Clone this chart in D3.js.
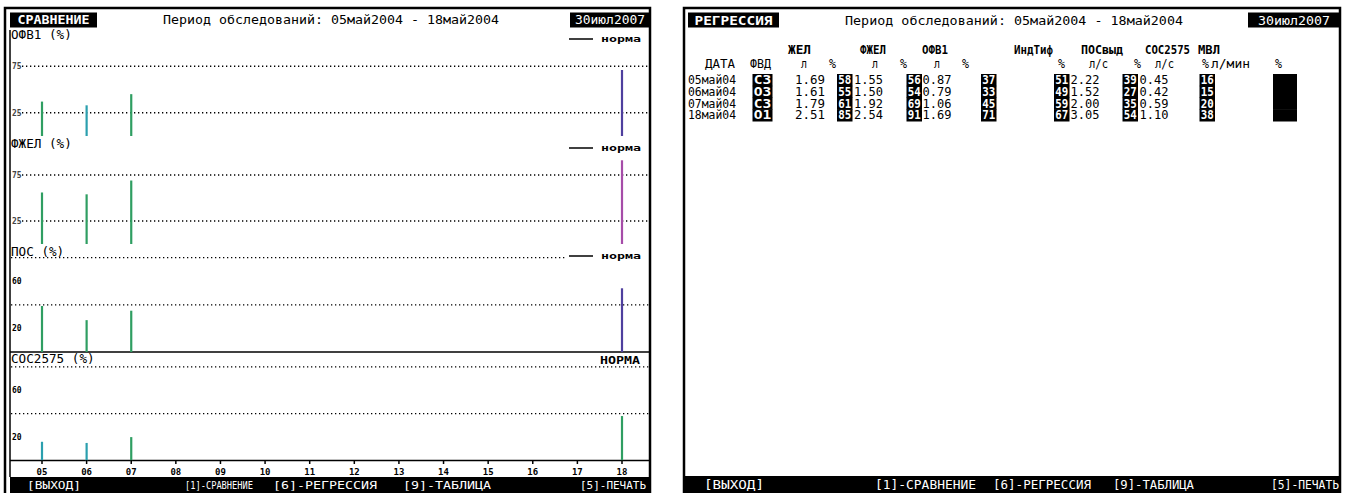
<!DOCTYPE html>
<html><head><meta charset="utf-8">
<script src="https://cdn.jsdelivr.net/npm/d3@7"></script>
<style>
html,body{margin:0;padding:0;background:#fff;}
svg text{font-family:"DejaVu Sans Mono",monospace;}
</style></head>
<body><svg id="c" width="1345" height="493"></svg>
<script>
// ---------- DATA ----------
const dates = ["05май04","06май04","07май04","18май04"];
const days = [5, 6, 7, 18];
const xTicks = [5,6,7,8,9,10,11,12,13,14,15,16,17,18];
const fvd = ["С3","О3","С3","О1"];
const zhelL = ["1.69","1.61","1.79","2.51"];
const zhelP = [58, 55, 61, 85];
const fzhelL = ["1.55","1.50","1.92","2.54"];
const fzhelP = [56, 54, 69, 91];
const ofv1L = ["0.87","0.79","1.06","1.69"];
const ofv1P = [37, 33, 45, 71];
const tiffP = [51, 49, 59, 67];
const posL = ["2.22","1.52","2.00","3.05"];
const posP = [39, 27, 35, 54];
const sosL = ["0.45","0.42","0.59","1.10"];
const sosP = [16, 15, 20, 38];
const mvlP = ["","","",""];
// grade class of each bar (colour category)
const ofv1Grade = ["b","c","b","p"];
const fzhelGrade = ["b","b","b","m"];
const posGrade = ["b","b","b","p"];
const sosGrade = ["c","c","b","b"];
const gridA = [25, 75], labelA = ["25","75"];
const gridB = [40, 80], labelB = [20, 60];
const period = "Период обследований: 05май2004 - 18май2004";
const today = "30июл2007";
const menu = ["[ВЫХОД]","[1]-СРАВНЕНИЕ","[6]-РЕГРЕССИЯ","[9]-ТАБЛИЦА","[5]-ПЕЧАТЬ"];
const head1 = ["ЖЕЛ","ФЖЕЛ","ОФВ1","ИндТиф","ПОСвыд","СОС2575","МВЛ"];
const head2 = ["ДАТА","ФВД","л","%","л","%","л","%","%","л/с","%","л/с","%","л/мин","%"];

// ---------- DRAW ----------
const svg = d3.select("#c");
const color = d3.scaleOrdinal().domain(["b","c","p","m"]).range(["#2f9e62","#2b9fae","#4f3f9e","#a64ca8"]);
const x = d3.scaleLinear().domain([5,18]).range([42,622]);

// ===== LEFT PANEL =====
const L = svg.append("g");
L.append("rect").attr("x",5).attr("y",8).attr("width",645).attr("height",495)
  .attr("fill","none").attr("stroke","#000").attr("stroke-width",2.5);
L.append("line").attr("x1",10).attr("x2",10).attr("y1",30).attr("y2",477).attr("stroke","#000").attr("stroke-width",1.5);
L.append("rect").attr("x",10).attr("y",12.5).attr("width",87).attr("height",15).attr("fill","#000");
L.append("text").attr("x",53.5).attr("y",24).attr("text-anchor","middle").attr("fill","#fff")
  .attr("font-size",12).attr("font-weight","bold").attr("textLength",72).attr("lengthAdjust","spacingAndGlyphs").text("СРАВНЕНИЕ");
L.append("text").attr("x",331).attr("y",24).attr("text-anchor","middle").attr("font-size",12)
  .attr("textLength",336).attr("lengthAdjust","spacingAndGlyphs").text(period);
L.append("rect").attr("x",570).attr("y",12.5).attr("width",80).attr("height",15).attr("fill","#000");
L.append("text").attr("x",610).attr("y",24).attr("text-anchor","middle").attr("fill","#fff").attr("font-size",12)
  .attr("textLength",70).attr("lengthAdjust","spacingAndGlyphs").text(today);

const panels = [
  {title:"ОФВ1 (%)", vals:ofv1P, grade:ofv1Grade, y:d3.scaleLinear().domain([0,100]).range([136,43]), tY:39,
   grid:gridA, labels:labelA, labelAt:gridA, axis:false, legend:"line"},
  {title:"ФЖЕЛ (%)", vals:fzhelP, grade:fzhelGrade, y:d3.scaleLinear().domain([0,100]).range([244,152]), tY:148,
   grid:gridA, labels:labelA, labelAt:gridA, axis:false, legend:"line"},
  {title:"ПОС (%)", vals:posP, grade:posGrade, y:d3.scaleLinear().domain([0,100]).range([352,234]), tY:256,
   grid:gridB, labels:labelB.map(String), labelAt:labelB, axis:true, legend:"line"},
  {title:"СОС2575 (%)", vals:sosP, grade:sosGrade, y:d3.scaleLinear().domain([0,100]).range([460.5,343.5]), tY:363,
   grid:gridB, labels:labelB.map(String), labelAt:labelB, axis:true, legend:"text"}
];
panels.forEach((p,pi)=>{
  const g = L.append("g");
  p.grid.forEach((v,i)=>{
    const yy = p.y(v);
    const top = (i===p.grid.length-1) && pi===2;
    g.append("line").attr("x1", p.axis?11:22).attr("x2", top?566:650).attr("y1",yy).attr("y2",yy)
      .attr("stroke","#000").attr("stroke-width",1.3).attr("stroke-dasharray","1.3,2.7");
  });
  p.labels.forEach((t,i)=>{
    g.append("text").attr("x",12).attr("y",p.y(p.labelAt[i])+3).attr("font-size",8).attr("font-weight","bold")
      .attr("fill", p.axis?"#000":"#444").text(t);
  });
  g.append("text").attr("x",11).attr("y",p.tY).attr("font-size",11.5)
    .attr("textLength",p.title.length*7.6).attr("lengthAdjust","spacingAndGlyphs").text(p.title);
  if(p.legend==="line"){
    g.append("line").attr("x1",569).attr("x2",593).attr("y1",p.tY).attr("y2",p.tY).attr("stroke","#000").attr("stroke-width",1.5);
    g.append("text").attr("x",601).attr("y",p.tY+3).attr("font-size",9).attr("font-weight","bold")
      .attr("textLength",40).attr("lengthAdjust","spacingAndGlyphs").text("норма");
  } else {
    g.append("rect").attr("x",598).attr("y",p.tY-9).attr("width",44).attr("height",12).attr("fill","#fff");
    g.append("text").attr("x",600).attr("y",p.tY+1).attr("font-size",10).attr("font-weight","bold")
      .attr("textLength",40).attr("lengthAdjust","spacingAndGlyphs").text("НОРМА");
  }
  if(p.axis){
    g.append("line").attr("x1",10).attr("x2",650).attr("y1",p.y(0)).attr("y2",p.y(0)).attr("stroke","#000").attr("stroke-width",1.6);
  }
  g.selectAll("line.bar").data(p.vals).join("line").attr("class","bar")
    .attr("x1",(d,i)=>x(days[i])).attr("x2",(d,i)=>x(days[i]))
    .attr("y1",p.y(0)).attr("y2",d=>p.y(d))
    .attr("stroke",(d,i)=>color(p.grade[i])).attr("stroke-width",2.2);
});
const xa = L.append("g");
xa.selectAll("line").data(xTicks).join("line").attr("x1",d=>x(d)).attr("x2",d=>x(d))
  .attr("y1",460).attr("y2",464).attr("stroke","#000").attr("stroke-width",1.5);
xa.selectAll("text").data(xTicks).join("text").attr("x",d=>x(d)).attr("y",475).attr("text-anchor","middle")
  .attr("font-size",9).attr("font-weight","bold").text(d=>d3.format("02d")(d));
L.append("rect").attr("x",10).attr("y",477).attr("width",640).attr("height",16).attr("fill","#000");
const lmx = [27,185,273,403,580], lmw=[54,68,104,88,66];
menu.forEach((t,i)=>L.append("text").attr("x",lmx[i]).attr("y",489).attr("fill","#fff").attr("font-size",11)
  .attr("textLength",lmw[i]).attr("lengthAdjust","spacingAndGlyphs").text(t));

// ===== RIGHT PANEL =====
const R = svg.append("g");
R.append("rect").attr("x",684).attr("y",8).attr("width",656).attr("height",495)
  .attr("fill","none").attr("stroke","#000").attr("stroke-width",2.5);
R.append("rect").attr("x",688).attr("y",12.5).attr("width",91).attr("height",15).attr("fill","#000");
R.append("text").attr("x",733.5).attr("y",24.5).attr("text-anchor","middle").attr("fill","#fff")
  .attr("font-size",13).attr("font-weight","bold").attr("textLength",78).attr("lengthAdjust","spacingAndGlyphs").text("РЕГРЕССИЯ");
R.append("text").attr("x",1014).attr("y",24.5).attr("text-anchor","middle").attr("font-size",13)
  .attr("textLength",338).attr("lengthAdjust","spacingAndGlyphs").text(period);
R.append("rect").attr("x",1248).attr("y",12.5).attr("width",92).attr("height",15).attr("fill","#000");
R.append("text").attr("x",1294).attr("y",24.5).attr("text-anchor","middle").attr("fill","#fff").attr("font-size",13)
  .attr("textLength",72).attr("lengthAdjust","spacingAndGlyphs").text(today);

const h1x = [788,860,922,1014,1081,1145,1198], h1w = [23,26,26,39,42,45,22];
head1.forEach((t,i)=>R.append("text").attr("x",h1x[i]).attr("y",54).attr("font-size",12.5).attr("font-weight","bold")
  .attr("textLength",h1w[i]).attr("lengthAdjust","spacingAndGlyphs").text(t));
const h2x = [705,750,801,829,872,900,934,962,1058,1089,1134,1155,1202,1211,1275];
const h2w = [30,21,6,7,6,7,6,7,7,19,7,19,7,39,7];
head2.forEach((t,i)=>R.append("text").attr("x",h2x[i]).attr("y",68).attr("font-size",12)
  .attr("textLength",h2w[i]).attr("lengthAdjust","spacingAndGlyphs").text(t));

const rowY = d3.scaleBand().domain(d3.range(dates.length)).range([74,121]);
const cols = [
  {vals:dates, x:688, w:48, box:false},
  {vals:fvd, x:752.5, w:20, box:true},
  {vals:zhelL, x:795, w:30, box:false},
  {vals:zhelP, x:837, w:15.5, box:true},
  {vals:fzhelL, x:854, w:29, box:false},
  {vals:fzhelP, x:906.5, w:15.5, box:true},
  {vals:ofv1L, x:922.5, w:29, box:false},
  {vals:ofv1P, x:981, w:15.5, box:true},
  {vals:tiffP, x:1054, w:15.5, box:true},
  {vals:posL, x:1070.5, w:29, box:false},
  {vals:posP, x:1122.5, w:15.5, box:true},
  {vals:sosL, x:1139.5, w:29, box:false},
  {vals:sosP, x:1199.5, w:15.5, box:true},
  {vals:mvlP, x:1273, w:24, box:true}
];
cols.forEach(c=>{
  const g = R.append("g");
  c.vals.forEach((v,i)=>{
    const y0 = rowY(i), bh = rowY.bandwidth();
    const s = String(v);
    if(c.box){
      g.append("rect").attr("x",c.x).attr("y",y0).attr("width",c.w).attr("height",bh+0.5).attr("fill","#000");
      if(s.length) g.append("text").attr("x",c.x+c.w/2).attr("y",y0+bh-1.6).attr("text-anchor","middle").attr("fill","#fff")
        .attr("font-size",13).attr("font-weight","bold").attr("textLength",c.w-2.5)
        .attr("lengthAdjust","spacingAndGlyphs").text(s);
    } else {
      g.append("text").attr("x",c.x).attr("y",y0+bh-1.6).attr("font-size",13)
        .attr("textLength",c.w).attr("lengthAdjust","spacingAndGlyphs").text(s);
    }
  });
});
R.append("rect").attr("x",684).attr("y",476).attr("width",656).attr("height",17).attr("fill","#000");
const rmx = [704,875,993,1113,1271], rmw=[60,101,98,81,68];
menu.forEach((t,i)=>R.append("text").attr("x",rmx[i]).attr("y",489).attr("fill","#fff").attr("font-size",12)
  .attr("textLength",rmw[i]).attr("lengthAdjust","spacingAndGlyphs").text(t));
</script></body></html>
